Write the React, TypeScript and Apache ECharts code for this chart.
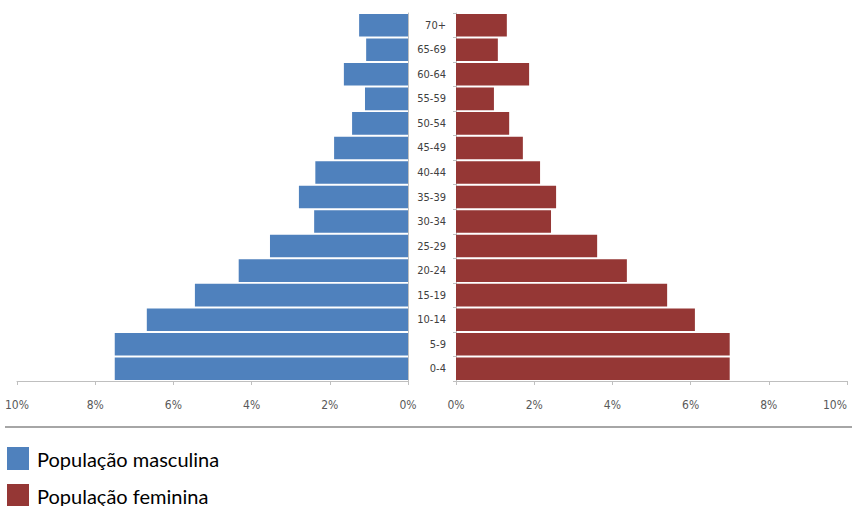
import React, { useEffect, useRef } from 'react';
import * as echarts from 'echarts';

const ageGroups = ['0-4', '5-9', '10-14', '15-19', '20-24', '25-29', '30-34', '35-39', '40-44', '45-49', '50-54', '55-59', '60-64', '65-69', '70+'];
const malePct = [7.5, 7.5, 6.68, 5.45, 4.33, 3.53, 2.4, 2.79, 2.37, 1.89, 1.43, 1.1, 1.64, 1.07, 1.25];
const femalePct = [7.0, 7.0, 6.11, 5.4, 4.37, 3.61, 2.43, 2.56, 2.15, 1.71, 1.36, 0.97, 1.87, 1.07, 1.3];
const seriesNames = ['População masculina', 'População feminina'];
const axisMin = 0;
const axisMax = 10;
const axisStep = 2;

const narrow = "'Liberation Sans Narrow', 'DejaVu Sans Condensed', sans-serif";

export default function App() {
  const ref = useRef<HTMLDivElement>(null);
  useEffect(() => {
    if (!ref.current) return;
    const chart = echarts.init(ref.current, undefined, { renderer: 'svg' });
    const valueAxis = (gridIndex: number, inverse: boolean, alignMax: string) => ({
      type: 'value',
      gridIndex,
      inverse,
      min: axisMin,
      max: axisMax,
      interval: axisStep,
      axisLine: { show: true, lineStyle: { color: '#bfbfbf', width: 1 } },
      axisTick: { show: true, length: 4, lineStyle: { color: '#bfbfbf' } },
      splitLine: { show: false },
      axisLabel: {
        formatter: '{value}%',
        margin: 18,
        fontSize: 12,
        color: '#595959',
        fontFamily: narrow,
        alignMaxLabel: alignMax,
      },
    });
    const legendItem = (name: string, top: number) => ({
      data: [name],
      orient: 'vertical',
      left: 7,
      top,
      padding: 0,
      itemWidth: 22,
      itemHeight: 23,
      icon: 'rect',
      textStyle: { fontSize: 20, color: '#000', fontFamily: 'Lato, sans-serif', padding: [0, 0, 0, 3] },
    });
    chart.setOption({
      animation: false,
      backgroundColor: '#ffffff',
      grid: [
        { left: 17, top: 13, width: 391, height: 368, outerBoundsMode: 'none' },
        { left: 456, top: 13, width: 391, height: 368, outerBoundsMode: 'none' },
      ],
      xAxis: [valueAxis(0, true, 'center'), valueAxis(1, false, 'right')],
      yAxis: [
        {
          type: 'category',
          gridIndex: 0,
          data: ageGroups,
          position: 'right',
          axisLabel: { show: false },
          axisTick: { show: false },
          axisLine: { show: true, lineStyle: { color: '#bfbfbf' } },
        },
        {
          type: 'category',
          gridIndex: 1,
          data: ageGroups,
          position: 'left',
          axisLabel: { margin: 10, fontSize: 11, color: '#404040', fontFamily: narrow },
          axisTick: { show: true, length: 3, lineStyle: { color: '#bfbfbf' } },
          axisLine: { show: true, lineStyle: { color: '#bfbfbf' } },
        },
      ],
      legend: [legendItem(seriesNames[0], 447), legendItem(seriesNames[1], 484)],
      graphic: [
        { type: 'line', shape: { x1: 5, y1: 427, x2: 852, y2: 427 }, style: { stroke: '#a6a6a6', lineWidth: 2 } },
      ],
      series: [
        {
          name: seriesNames[0],
          type: 'bar',
          xAxisIndex: 0,
          yAxisIndex: 0,
          data: malePct,
          barCategoryGap: '8%',
          itemStyle: { color: '#4f81bd' },
        },
        {
          name: seriesNames[1],
          type: 'bar',
          xAxisIndex: 1,
          yAxisIndex: 1,
          data: femalePct,
          barCategoryGap: '8%',
          itemStyle: { color: '#953735' },
        },
      ],
    });
    return () => chart.dispose();
  }, []);
  return <div ref={ref} style={{ position: 'fixed', left: 0, top: 0, width: 856, height: 506 }} />;
}
